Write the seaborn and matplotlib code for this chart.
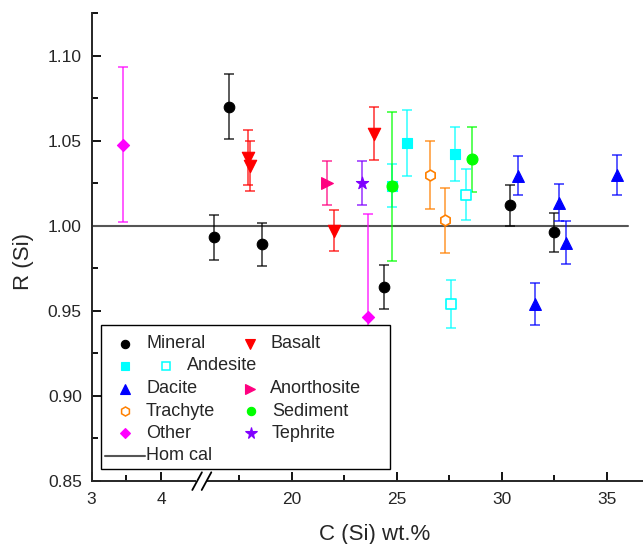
import numpy as np
import matplotlib
matplotlib.use('Agg')
import matplotlib.pyplot as plt
import seaborn as sns
from matplotlib.patches import Rectangle
from matplotlib.ticker import FixedLocator, FuncFormatter

# data: C (Si) wt.% , R (Si), error
mineral_x = [16.3, 17.0, 18.6, 24.4, 30.4, 32.5]
mineral_r = [0.993, 1.070, 0.989, 0.964, 1.012, 0.996]
mineral_err = [0.0135, 0.019, 0.0125, 0.013, 0.012, 0.0115]

basalt_x = [17.9, 18.0, 22.0, 23.9]
basalt_r = [1.040, 1.035, 0.997, 1.054]
basalt_err = [0.016, 0.0145, 0.012, 0.0155]

andesite_x = [24.8, 25.5, 27.8]
andesite_r = [1.0235, 1.0485, 1.042]
andesite_err = [0.0127, 0.0196, 0.016]

andesite2_x = [27.6, 28.3]
andesite2_r = [0.954, 1.018]
andesite2_err = [0.014, 0.015]

dacite_x = [30.8, 31.6, 32.75, 33.05, 35.5]
dacite_r = [1.0294, 0.954, 1.0135, 0.990, 1.0298]
dacite_err = [0.0113, 0.0122, 0.011, 0.0125, 0.0118]

anorthosite_x = [21.7]
anorthosite_r = [1.025]
anorthosite_err = [0.0127]

trachyte_x = [26.6, 27.3]
trachyte_r = [1.030, 1.003]
trachyte_err = [0.020, 0.019]

sediment_x = [24.8, 28.6]
sediment_r = [1.023, 1.039]
sediment_err = [0.0437, 0.019]

other_x = [3.45, 23.65]
other_r = [1.0475, 0.946]
other_err = [0.0455, 0.061]

tephrite_x = [23.35]
tephrite_r = [1.025]
tephrite_err = [0.0128]

homcal_x = [3, 36]
homcal_r = [1.0, 1.0]

sns.set_style('ticks')
plt.rcParams['font.family'] = ['Liberation Sans', 'DejaVu Sans']

# broken x axis: 3 .. 4.58 then 15.71 .. 36.7 (piecewise linear scale)
k1, k2 = 69.7, 21.0
xa, xb = 4.581, 15.714
pa = (xa - 3) * k1
gap = 0.01

def fwd(x):
    x = np.asarray(x, float)
    return np.where(x <= xa, (x - 3) * k1,
                    np.where(x >= xb, pa + gap + (x - xb) * k2,
                             pa + (x - xa) / (xb - xa) * gap))

def inv(y):
    y = np.asarray(y, float)
    return np.where(y <= pa, 3 + y / k1,
                    np.where(y >= pa + gap, xb + (y - pa - gap) / k2,
                             xa + (y - pa) / gap * (xb - xa)))

fig = plt.figure(figsize=(6.43, 5.44), dpi=100)
ax = fig.add_axes([91.5/643, (544-480.7)/544, 551.5/643, 467.7/544])
ax.set_xscale('function', functions=(fwd, inv))

groups = [ # x, r, err, marker, colour, size, filled
    (mineral_x, mineral_r, mineral_err, 'o', 'black', 58, True),
    (basalt_x, basalt_r, basalt_err, 'v', '#FF0000', 80, True),
    (andesite_x, andesite_r, andesite_err, 's', '#00FFFF', 45, True),
    (andesite2_x, andesite2_r, andesite2_err, 's', '#00FFFF', 45, False),
    (dacite_x, dacite_r, dacite_err, '^', '#0000FF', 72, True),
    (anorthosite_x, anorthosite_r, anorthosite_err, '>', '#FF0080', 72, True),
    (trachyte_x, trachyte_r, trachyte_err, 'h', '#FF8000', 60, False),
    (sediment_x, sediment_r, sediment_err, 'o', '#00FF00', 62, True),
    (other_x, other_r, other_err, 'D', '#FF00FF', 38, True),
    (tephrite_x, tephrite_r, tephrite_err, '*', '#8000FF', 85, True),
]

sns.lineplot(x=homcal_x, y=homcal_r, color='#555555', lw=1.5, ax=ax, zorder=1)

for gx, gr, ge, m, c, s, filled in groups:
    ax.errorbar(gx, gr, yerr=ge, fmt='none', ecolor=c, elinewidth=1.2,
                capsize=3.8, capthick=1.2, alpha=0.75, zorder=2)
    sns.scatterplot(x=gx, y=gr, marker=m, s=s, ax=ax, zorder=3,
                    color=c if filled else 'white', edgecolor=c,
                    linewidth=0.8 if filled else 1.2)

ax.set_xlim(3, 36.73)
ax.set_ylim(0.85, 1.125)

ax.xaxis.set_major_locator(FixedLocator([3, 4, 20, 25, 30, 35]))
ax.xaxis.set_minor_locator(FixedLocator([3.5, 17.5, 22.5, 27.5, 32.5]))
ax.xaxis.set_major_formatter(FuncFormatter(lambda v, p: '%g' % v))
ax.yaxis.set_major_locator(FixedLocator([0.85, 0.90, 0.95, 1.00, 1.05, 1.10]))
ax.yaxis.set_minor_locator(FixedLocator([0.875, 0.925, 0.975, 1.025, 1.075, 1.125]))
ax.yaxis.set_major_formatter(FuncFormatter(lambda v, p: '%.2f' % v))

for s in ['top', 'right']:
    ax.spines[s].set_visible(False)
for s in ['left', 'bottom']:
    ax.spines[s].set_linewidth(1.4)
ax.tick_params(which='major', direction='in', length=6.5, width=1.3, labelsize=12.5, color='black')
ax.tick_params(which='minor', direction='in', length=4.3, width=1.3, color='black')
ax.tick_params(axis='y', pad=7)
ax.tick_params(axis='x', pad=8)

ax.set_xlabel('C (Si) wt.%', fontsize=16)
ax.set_ylabel('R (Si)', fontsize=16)
ax.xaxis.set_label_coords(0.5136, -0.093)
ax.yaxis.set_label_coords(-0.1043, 0.4687)

# axis break marks
def px(x):
    return (x - 91.5) / 551.5
def py(y):
    return (480.7 - y) / 467.7
ax.add_patch(Rectangle((px(196), py(482)), px(207) - px(196), py(479.5) - py(482),
                       transform=ax.transAxes, facecolor='white', edgecolor='none',
                       clip_on=False, zorder=5))
for x0 in [192.3, 201.7]:
    ax.plot([px(x0), px(x0 + 9.6)], [py(490), py(472.3)], color='black', lw=1.3,
            transform=ax.transAxes, clip_on=False, zorder=6)

# legend drawn by hand (Andesite row carries two markers)
ax.add_patch(Rectangle((px(100.7), py(469.3)), px(390) - px(100.7), py(325.3) - py(469.3),
                       transform=ax.transAxes, facecolor='white', edgecolor='black',
                       lw=1.0, zorder=10))
rows = [344, 366, 388.7, 411, 433.3, 455.7]
leg_items = [ # marker x, row, marker, colour, markersize, filled, text x, label
    (125, 0, 'o', 'black', 6, True, 146, 'Mineral'),
    (250, 0, 'v', '#FF0000', 7, True, 270, 'Basalt'),
    (125, 1, 's', '#00FFFF', 5.5, True, None, ''),
    (166, 1, 's', '#00FFFF', 5.5, False, 186.7, 'Andesite'),
    (125, 2, '^', '#0000FF', 7, True, 146, 'Dacite'),
    (250, 2, '>', '#FF0080', 7, True, 270, 'Anorthosite'),
    (125, 3, 'h', '#FF8000', 6.5, False, 146, 'Trachyte'),
    (251, 3, 'o', '#00FF00', 6, True, 272, 'Sediment'),
    (125, 4, 'D', '#FF00FF', 5, True, 146, 'Other'),
    (251, 4, '*', '#8000FF', 8.5, True, 272, 'Tephrite'),
]
for mx, row, m, c, ms, filled, tx, lab in leg_items:
    ax.plot([px(mx)], [py(rows[row])], marker=m, ms=ms, color=c,
            mfc=c if filled else 'white', mec=c, mew=0.8 if filled else 1.1,
            transform=ax.transAxes, clip_on=False, zorder=11, ls='none')
    if tx is not None:
        ax.text(px(tx), py(rows[row]), lab, fontsize=13, va='center', ha='left',
                transform=ax.transAxes, zorder=11)
ax.plot([px(105), px(145)], [py(rows[5]), py(rows[5])], color='#555555', lw=1.5,
        transform=ax.transAxes, zorder=11)
ax.text(px(146), py(rows[5]), 'Hom cal', fontsize=13, va='center', ha='left',
        transform=ax.transAxes, zorder=11)

plt.savefig('out.png', dpi=100)
